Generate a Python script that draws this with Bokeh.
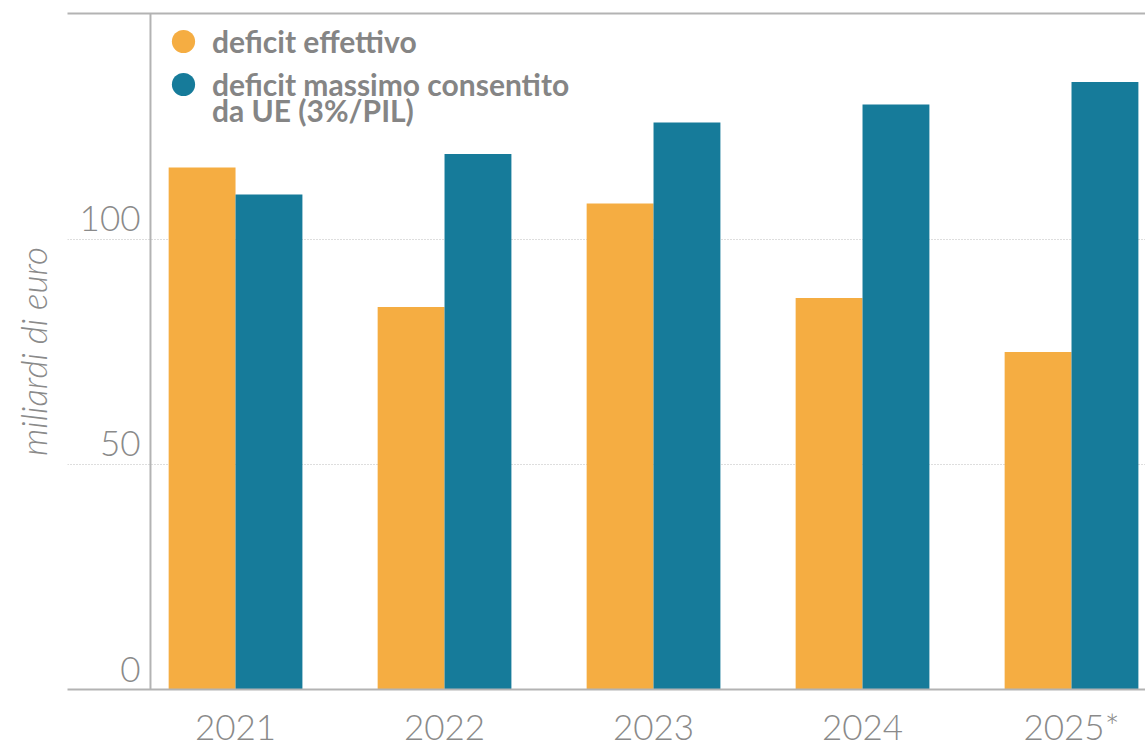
from bokeh.plotting import figure
from bokeh.models import (ColumnDataSource, Range1d, FixedTicker, LinearAxis, Span,
                          Legend, LegendItem, LabelSet)
from bokeh.core.properties import value
from bokeh.transform import dodge
from bokeh.embed import file_html
from bokeh.resources import INLINE

# ---- data ----
years = [2021, 2022, 2023, 2024, 2025]
year_labels = ["2021", "2022", "2023", "2024", "2025*"]
deficit_effettivo = [116, 85, 108, 87, 75]
deficit_massimo = [110, 119, 126, 130, 135]
y_ticks = [0, 50, 100]
y_tick_labels = ["0", "50", "100"]
legend_labels = ["deficit effettivo", "deficit massimo consentito", "da UE (3%/PIL)"]

ORANGE = "#F5AD42"
BLUE = "#167B9A"
GREY_TXT = "#8a8a8a"
LINE = "#b3b3b3"
FONT_LIGHT = "Lato Light"

src = ColumnDataSource(dict(year=years, eff=deficit_effettivo, mas=deficit_massimo))

p = figure(width=1145, height=749, output_backend="svg", toolbar_location=None,
           x_range=Range1d(2020.196, 2025.354), y_range=Range1d(0, 150.2),
           min_border_left=67, min_border_right=0, min_border_top=13, min_border_bottom=60)
p.outline_line_color = None
p.background_fill_color = "white"
p.border_fill_color = "white"

# bars
r1 = p.vbar(x=dodge("year", -0.16, range=p.x_range), top="eff", width=0.32, source=src,
            fill_color=ORANGE, line_color=None)
r2 = p.vbar(x=dodge("year", 0.16, range=p.x_range), top="mas", width=0.32, source=src,
            fill_color=BLUE, line_color=None)

# x axis
xa = p.xaxis[0]
xa.ticker = FixedTicker(ticks=years)
xa.major_label_overrides = {y: l for y, l in zip(years, year_labels)}
xa.major_tick_line_color = None
xa.minor_tick_line_color = None
xa.major_tick_out = 0
xa.major_tick_in = 0
xa.minor_tick_out = 0
xa.minor_tick_in = 0
xa.axis_line_color = LINE
xa.axis_line_width = 2
xa.major_label_text_font = FONT_LIGHT
xa.major_label_text_font_size = "35px"
xa.major_label_text_color = GREY_TXT
xa.major_label_standoff = 15

# y axis: only title
ya = p.yaxis[0]
ya.ticker = FixedTicker(ticks=[])
ya.axis_line_color = None
ya.major_tick_line_color = None
ya.minor_tick_line_color = None
ya.axis_label = "miliardi di euro"
ya.axis_label_text_font = FONT_LIGHT
ya.axis_label_text_font_style = "italic"
ya.axis_label_text_font_size = "35px"
ya.axis_label_text_color = GREY_TXT
ya.axis_label_standoff = 14

# top line
top = LinearAxis(ticker=FixedTicker(ticks=[]), axis_line_color=LINE, axis_line_width=2,
                 major_tick_line_color=None, minor_tick_line_color=None,
                 major_tick_out=0, minor_tick_out=0)
p.add_layout(top, "above")

# grid
p.xgrid.visible = False
p.ygrid.ticker = FixedTicker(ticks=[50, 100])
p.ygrid.grid_line_color = "#bdbdbd"
p.ygrid.grid_line_dash = "1 2"
p.ygrid.grid_line_width = 1

# vertical axis line
p.add_layout(Span(location=2020.593, dimension="height", line_color=LINE, line_width=2))

# y tick labels
tick_src = ColumnDataSource(dict(y=y_ticks, t=y_tick_labels, x=[73] * len(y_ticks)))
p.add_layout(LabelSet(x="x", y="y", text="t", source=tick_src, x_units="screen",
                      text_align="right", text_baseline="alphabetic", y_offset=8,
                      text_font=value(FONT_LIGHT), text_font_size="35px", text_color=GREY_TXT))

# legend markers: size 0 so nothing is drawn on the plot; the legend draws its own circle
c1 = p.scatter(x="year", y="eff", source=src, marker="circle", size=0,
               fill_color=ORANGE, line_color=None)
c2 = p.scatter(x="year", y="mas", source=src, marker="circle", size=0,
               fill_color=BLUE, line_color=None)
c3 = p.scatter(x="year", y="mas", source=src, marker="circle", size=0,
               fill_color=None, line_color=None)

leg_style = dict(orientation="vertical", background_fill_alpha=0, border_line_color=None,
                 padding=0, margin=0, spacing=0, glyph_width=58, label_standoff=-7,
                 label_text_font="Lato", label_text_font_style="bold",
                 label_text_font_size="30px", label_text_color="#858585")
legA = Legend(items=[LegendItem(label=legend_labels[0], renderers=[c1])],
              location=(87, 619), glyph_height=58, **leg_style)
legB = Legend(items=[LegendItem(label=legend_labels[1], renderers=[c2])],
              location=(87, 576), glyph_height=58, **leg_style)
legC = Legend(items=[LegendItem(label=legend_labels[2], renderers=[c3])],
              location=(87, 561), glyph_height=10, **leg_style)
for lg in (legA, legB, legC):
    p.add_layout(lg)

open("out.html", "w").write(file_html(p, INLINE))
